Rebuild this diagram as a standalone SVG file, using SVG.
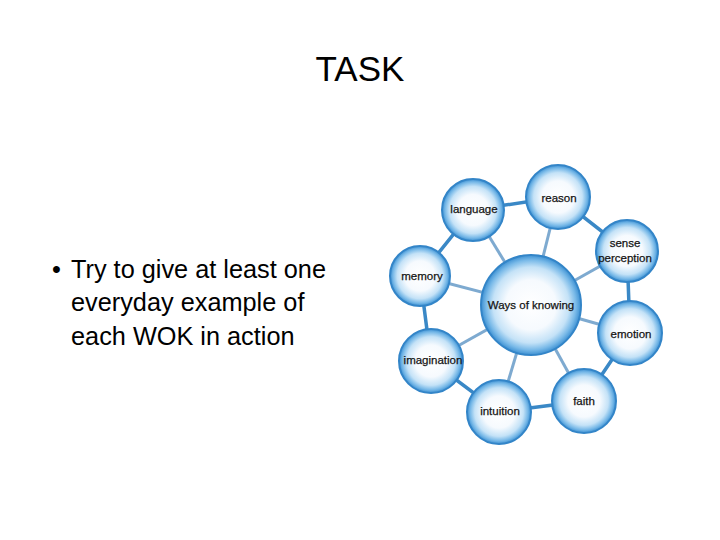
<svg xmlns="http://www.w3.org/2000/svg" width="720" height="540" viewBox="0 0 720 540">
<defs>
<radialGradient id="g" cx="0.5" cy="0.5" r="0.5">
<stop offset="0" stop-color="#ffffff"/>
<stop offset="0.5" stop-color="#f6fafe"/>
<stop offset="0.76" stop-color="#c4e2f7"/>
<stop offset="0.9" stop-color="#78b9e8"/>
<stop offset="1" stop-color="#3d90d2"/>
</radialGradient>
<style>
.n{fill:url(#g);stroke:#3385c8;stroke-width:2}
.t{font-family:"Liberation Sans",Arial,sans-serif;font-size:11.5px;fill:#141414;stroke:#141414;stroke-width:0.25;text-anchor:middle}
.ring{stroke:#3a88c6;stroke-width:3.5;fill:none}
.spoke{stroke:#7eaad0;stroke-width:3;fill:none}
</style>
</defs>
<rect width="720" height="540" fill="#ffffff"/>
<text x="360" y="81" font-family="Liberation Sans, Arial, sans-serif" font-size="35" text-anchor="middle" fill="#000">TASK</text>
<g font-family="Liberation Sans, Arial, sans-serif" font-size="25.3" fill="#000">
<text x="52" y="278">•</text>
<text x="71" y="278">Try to give at least one</text>
<text x="71" y="311">everyday example of</text>
<text x="71" y="345">each WOK in action</text>
</g>
<g id="connectors">
<polygon class="ring" points="473,210 558,197 627,251 630,333 584,401 499,412 431,361 420,276"/>
<line class="spoke" x1="531" y1="305" x2="473" y2="210"/>
<line class="spoke" x1="531" y1="305" x2="558" y2="197"/>
<line class="spoke" x1="531" y1="305" x2="627" y2="251"/>
<line class="spoke" x1="531" y1="305" x2="630" y2="333"/>
<line class="spoke" x1="531" y1="305" x2="584" y2="401"/>
<line class="spoke" x1="531" y1="305" x2="499" y2="412"/>
<line class="spoke" x1="531" y1="305" x2="431" y2="361"/>
<line class="spoke" x1="531" y1="305" x2="420" y2="276"/>
</g>
<g id="center"><circle class="n" cx="531" cy="305" r="50"/><text class="t" x="531" y="309">Ways of knowing</text></g>
<g id="language"><circle class="n" cx="473" cy="210" r="31"/><text class="t" x="474" y="213">language</text></g>
<g id="reason"><circle class="n" cx="558" cy="197" r="32"/><text class="t" x="559" y="202">reason</text></g>
<g id="sense-perception"><circle class="n" cx="627" cy="251" r="31"/><text class="t" x="625" y="247">sense</text><text class="t" x="625" y="262">perception</text></g>
<g id="emotion"><circle class="n" cx="630" cy="333" r="32"/><text class="t" x="631" y="338">emotion</text></g>
<g id="faith"><circle class="n" cx="584" cy="401" r="32"/><text class="t" x="584" y="405">faith</text></g>
<g id="intuition"><circle class="n" cx="499" cy="412" r="32"/><text class="t" x="500" y="415">intuition</text></g>
<g id="imagination"><circle class="n" cx="431" cy="361" r="32"/><text class="t" x="433" y="364">imagination</text></g>
<g id="memory"><circle class="n" cx="420" cy="276" r="30"/><text class="t" x="422" y="280">memory</text></g>
</svg>
